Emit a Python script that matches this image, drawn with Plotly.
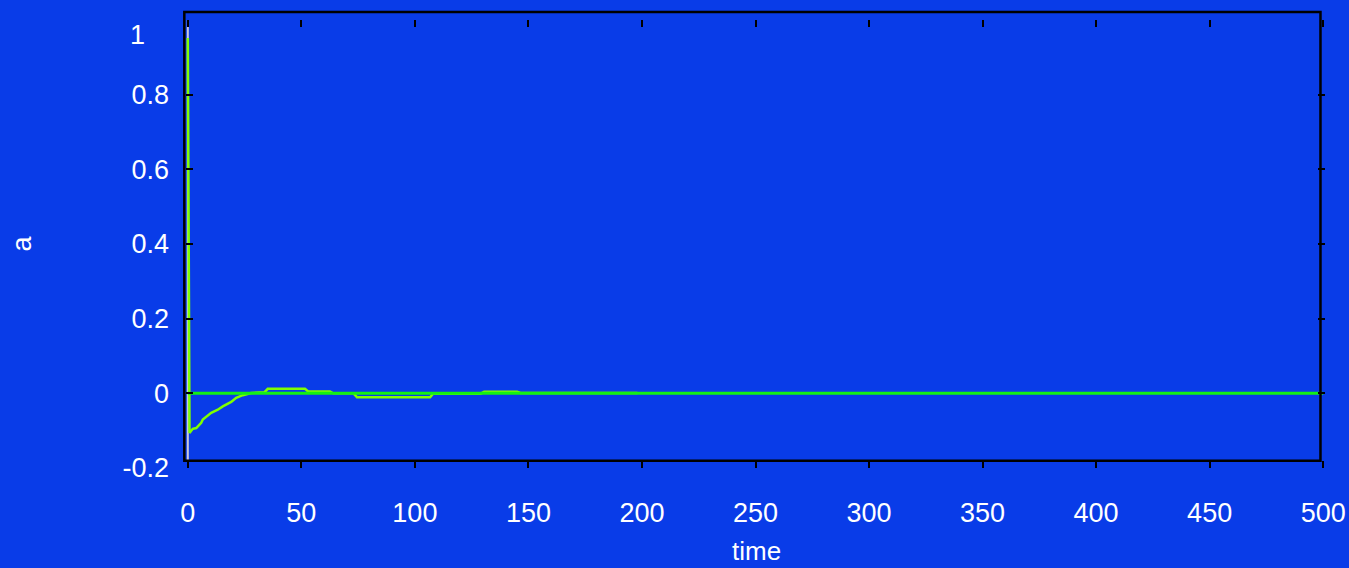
import plotly.graph_objects as go

# ---- data ----
time_resp = [0, 0.75, 2.2, 3.7, 5.9, 6.6, 10.3, 13.2, 15.4, 19.1, 21.3, 24.2, 27.9,
             33.8, 35.2, 51.6, 53.0, 62.6, 64.0, 73.0, 74.5, 106.7, 108.0, 129.0,
             130.5, 145.0, 146.5, 198.0]
a_resp = [0.952, -0.106, -0.095, -0.093, -0.079, -0.070, -0.052, -0.044, -0.035,
          -0.023, -0.012, -0.005, 0.001, 0.003, 0.012, 0.012, 0.005, 0.005, 0.0,
          0.0, -0.0105, -0.0105, -0.001, -0.001, 0.004, 0.004, 0.001, 0.001]
time_ref = [0, 500]
a_ref = [0, 0]
time_init = [0, 0]
a_init = [1.0, -0.18]

x_ticks = [0, 50, 100, 150, 200, 250, 300, 350, 400, 450, 500]
y_ticks = [-0.2, 0, 0.2, 0.4, 0.6, 0.8, 1.0]
y_ticktext = ["-0.2", "0", "0.2", "0.4", "0.6", "0.8", ""]

BG = "rgb(9,60,232)"
FONT = "Liberation Sans, Arial, sans-serif"
FS = 27

fig = go.Figure()
fig.add_trace(go.Scatter(x=time_init, y=a_init, mode="lines",
                         line=dict(color="#c8c8d8", width=2), showlegend=False))
fig.add_trace(go.Scatter(x=time_resp, y=a_resp, mode="lines",
                         line=dict(color="#7fff00", width=2.5), showlegend=False))
fig.add_trace(go.Scatter(x=time_ref, y=a_ref, mode="lines",
                         line=dict(color="#14f014", width=3), showlegend=False))

W, H = 1349, 568
x0px, x500px = 188, 1323
scale = (x500px - x0px) / 500.0
xr = [-0.8, 500.8]
left = x0px + xr[0] * scale
right = W - (x500px + (xr[1] - 500) * scale)
top, bottom = 20, 99.5
plot_w = W - left - right
plot_h = H - top - bottom

def px2paper_x(px):
    return (px - left) / plot_w

def px2paper_y(py):
    return (H - bottom - py) / plot_h

fig.update_layout(
    width=W, height=H,
    margin=dict(l=left, r=right, t=top, b=bottom, pad=0, autoexpand=False),
    paper_bgcolor=BG, plot_bgcolor=BG,
    font=dict(family=FONT, size=FS, color="white"),
    showlegend=False,
    xaxis=dict(range=xr, tickvals=x_ticks, ticks="inside", ticklen=7, tickwidth=2,
               tickcolor="black", mirror="ticks", showline=False, showgrid=False,
               zeroline=False, ticklabelstandoff=26, automargin=False,
               tickfont=dict(family=FONT, size=FS, color="white")),
    yaxis=dict(range=[-0.2, 1.0], tickvals=y_ticks, ticktext=y_ticktext,
               ticks="inside", ticklen=7, tickwidth=2, tickcolor="black",
               mirror="ticks", showline=False, showgrid=False, zeroline=False,
               ticklabelstandoff=16, automargin=False,
               tickfont=dict(family=FONT, size=FS, color="white")),
    shapes=[dict(type="rect", xref="paper", yref="paper",
                 x0=px2paper_x(184.5), x1=px2paper_x(1320.3),
                 y0=px2paper_y(461.3), y1=px2paper_y(12),
                 line=dict(color="black", width=2.5), layer="above")],
    annotations=[
        dict(text="1", xref="paper", yref="paper", x=px2paper_x(138), y=px2paper_y(35),
             xanchor="center", yanchor="middle", showarrow=False,
             font=dict(family=FONT, size=FS, color="white")),
        dict(text="a", xref="paper", yref="paper", x=px2paper_x(22), y=px2paper_y(244),
             xanchor="center", yanchor="middle", showarrow=False, textangle=-90,
             font=dict(family=FONT, size=FS, color="white")),
        dict(text="time", xref="paper", yref="paper", x=px2paper_x(756), y=px2paper_y(568),
             xanchor="center", yanchor="bottom", showarrow=False, borderpad=0,
             font=dict(family=FONT, size=26, color="white")),
    ],
)

fig.write_html("out.html")
